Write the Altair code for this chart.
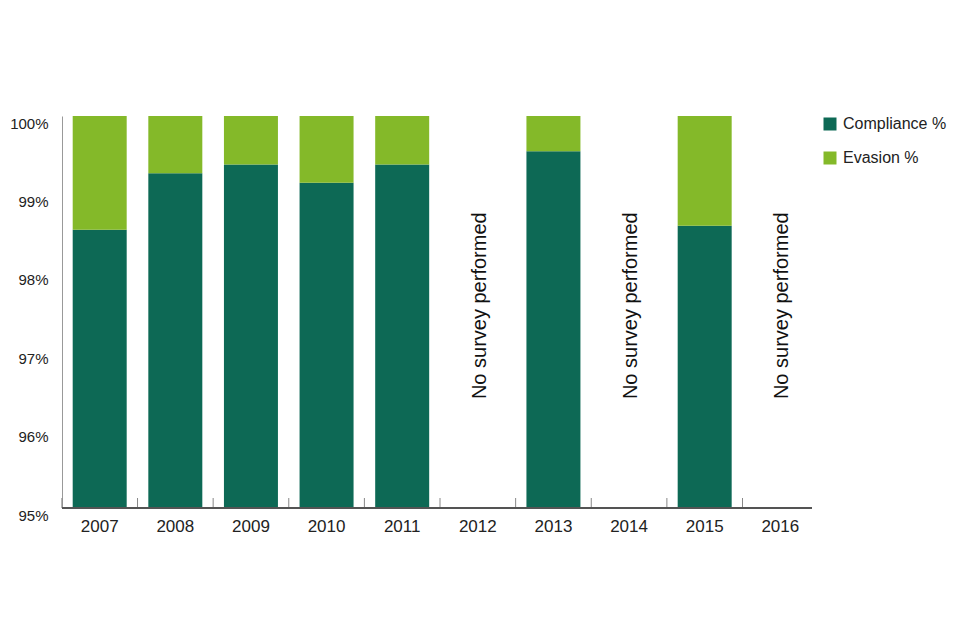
import altair as alt
import pandas as pd

years = ["2007", "2008", "2009", "2010", "2011", "2012", "2013", "2014", "2015", "2016"]
survey_years = ["2007", "2008", "2009", "2010", "2011", "2013", "2015"]
compliance = [98.55, 99.27, 99.38, 99.15, 99.38, 99.55, 98.6]
evasion = [round(100 - c, 2) for c in compliance]
no_survey_years = ["2012", "2014", "2016"]
no_survey_label = "No survey performed"
series = ["Compliance %", "Evasion %"]
colors = ["#0d6955", "#84b929"]
y_ticks = [95, 96, 97, 98, 99, 100]

FONT = "Liberation Sans"
TEXT_COLOR = "#222222"

rows = []
for y, c, e in zip(survey_years, compliance, evasion):
    rows.append({"year": y, "series": series[0], "value": c, "ord": 0})
    rows.append({"year": y, "series": series[1], "value": e, "ord": 1})
bars_df = pd.DataFrame(rows)
text_df = pd.DataFrame({"year": no_survey_years, "label": [no_survey_label] * len(no_survey_years)})
tick_df = pd.DataFrame({"year": years})

x_scale = alt.Scale(domain=years, paddingInner=0.286, paddingOuter=0.1415)
y_scale = alt.Scale(domain=[95, 100], zero=False, nice=False)

bars = alt.Chart(bars_df).mark_bar(clip=True).encode(
    x=alt.X("year:O", scale=x_scale, sort=years,
            axis=alt.Axis(title=None, labelAngle=0, tickSize=0, labelPadding=10,
                          domain=False, labelFontSize=17, labelColor=TEXT_COLOR,
                          labelFont=FONT)),
    y=alt.Y("value:Q", stack="zero", scale=y_scale,
            axis=alt.Axis(title=None, values=y_ticks, labelExpr="datum.value + '%'",
                          tickSize=0, labelPadding=14, labelOffset=7, grid=False,
                          domainColor="#999999", labelFontSize=15, labelColor=TEXT_COLOR,
                          labelFont=FONT)),
    color=alt.Color("series:N", scale=alt.Scale(domain=series, range=colors),
                    legend=alt.Legend(title=None, orient="none", legendX=760, legendY=0,
                                      symbolType="square", symbolSize=169, symbolStrokeWidth=0,
                                      labelFontSize=16, labelColor=TEXT_COLOR, labelFont=FONT,
                                      rowPadding=18, padding=0, labelOffset=5)),
    order=alt.Order("ord:Q"),
)

ticks = alt.Chart(tick_df).mark_rule(color="#888888", strokeWidth=1, xOffset=-10.8).encode(
    x=alt.X("year:O", scale=x_scale, sort=years, bandPosition=0),
    y=alt.datum(95),
    y2=alt.value(382),
)

baseline = alt.Chart(tick_df).mark_rule(color="#555555", strokeWidth=1).encode(
    x=alt.value(0),
    x2=alt.value(750),
    y=alt.datum(95),
)

texts = alt.Chart(text_df).mark_text(angle=270, align="center", baseline="middle",
                                     fontSize=20, font=FONT, color="#111111", dy=2).encode(
    x=alt.X("year:O", scale=x_scale, sort=years),
    y=alt.datum(97.58),
    text="label:N",
)

chart = alt.layer(bars, ticks, baseline, texts).properties(
    width=756, height=392,
    autosize=alt.AutoSizeParams(type="none"),
    padding={"left": 54, "top": 108, "right": 134, "bottom": 124},
).configure_view(stroke=None)

chart.save("out.html", embed_options={"renderer": "svg", "actions": False})
